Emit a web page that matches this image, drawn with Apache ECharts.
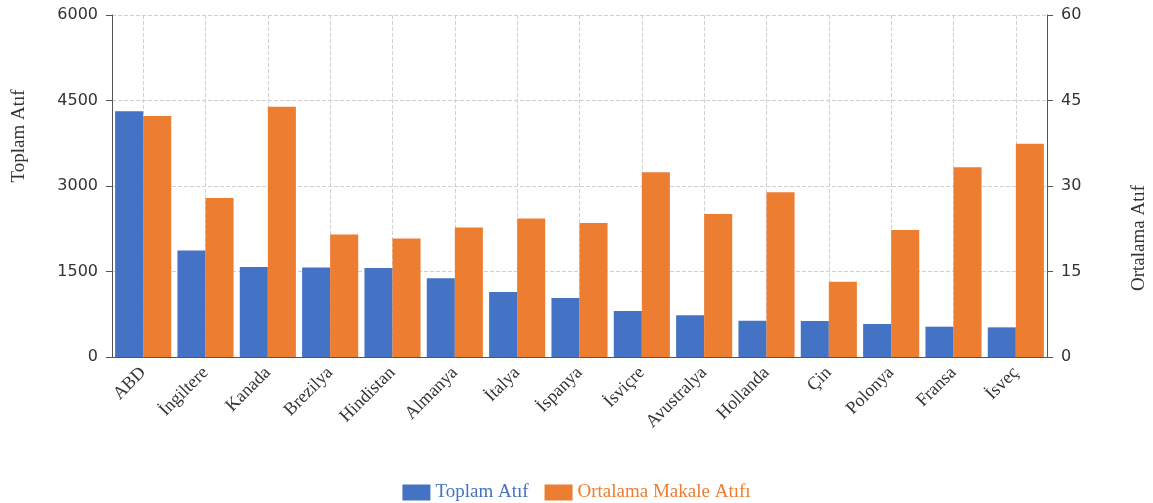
<!DOCTYPE html>
<html>
<head>
<meta charset="utf-8">
<script src="https://cdn.jsdelivr.net/npm/echarts@6/dist/echarts.min.js"></script>
<style>
html,body{margin:0;padding:0;background:#fff;}
#chart{width:1153px;height:503px;}
</style>
</head>
<body>
<div id="chart"></div>
<script>
const categories = ['ABD','İngiltere','Kanada','Brezilya','Hindistan','Almanya','İtalya','İspanya','İsviçre','Avustralya','Hollanda','Çin','Polonya','Fransa','İsveç'];
const toplamAtif = [4310, 1870, 1580, 1570, 1560, 1380, 1140, 1035, 807, 731, 637, 632, 579, 532, 520];
const ortalamaAtif = [42.3, 27.9, 43.9, 21.5, 20.8, 22.7, 24.3, 23.5, 32.4, 25.1, 28.9, 13.2, 22.3, 33.3, 37.4];
const leftTicks = [0, 1500, 3000, 4500, 6000];
const rightTicks = [0, 15, 30, 45, 60];

const BLUE = '#4472C4';
const ORANGE = '#ED7D31';
const serif = '"Liberation Serif", "DejaVu Serif", serif';
const sans = '"DejaVu Sans", sans-serif';

const chart = echarts.init(document.getElementById('chart'), null, {renderer: 'canvas'});
chart.setOption({
  animation: false,
  backgroundColor: '#fff',
  grid: {left: 112, right: 106, top: 15, bottom: 146, containLabel: false},
  legend: {
    top: 478,
    left: 'center',
    itemWidth: 28,
    itemHeight: 16,
    itemGap: 16,
    icon: 'rect',
    textStyle: {fontFamily: serif, fontSize: 19},
    data: [
      {name: 'Toplam Atıf', textStyle: {color: BLUE}},
      {name: 'Ortalama Makale Atıfı', textStyle: {color: ORANGE}}
    ]
  },
  xAxis: {
    type: 'category',
    data: categories,
    boundaryGap: true,
    axisLine: {lineStyle: {color: '#555'}},
    axisTick: {alignWithLabel: true, length: 6, lineStyle: {color: '#555'}},
    axisLabel: {rotate: 45, fontFamily: serif, fontSize: 18, color: '#333', margin: 13, interval: 0},
    splitLine: {show: true, alignWithLabel: true, lineStyle: {type: 'dashed', color: '#d0d0d0'}}
  },
  yAxis: [
    {
      type: 'value', min: 0, max: leftTicks[leftTicks.length-1], interval: leftTicks[1]-leftTicks[0],
      position: 'left',
      axisLine: {show: true, lineStyle: {color: '#555'}},
      axisTick: {show: true, length: 6, lineStyle: {color: '#555'}},
      axisLabel: {fontFamily: sans, fontSize: 16, color: '#333', margin: 14, formatter: v => String(v)},
      splitLine: {show: true, lineStyle: {type: 'dashed', color: '#d0d0d0'}}
    },
    {
      type: 'value', min: 0, max: rightTicks[rightTicks.length-1], interval: rightTicks[1]-rightTicks[0],
      position: 'right',
      axisLine: {show: true, lineStyle: {color: '#555'}},
      axisTick: {show: true, length: 6, lineStyle: {color: '#555'}},
      axisLabel: {fontFamily: sans, fontSize: 16, color: '#333', margin: 14, formatter: v => String(v)},
      splitLine: {show: false}
    }
  ],
  graphic: [
    {type: 'text', x: 19, y: 136, rotation: Math.PI/2,
     style: {text: 'Toplam Atıf', font: '19px ' + serif, fill: '#333', align: 'center', verticalAlign: 'middle'}},
    {type: 'text', x: 1139, y: 238, rotation: Math.PI/2,
     style: {text: 'Ortalama Atıf', font: '19px ' + serif, fill: '#333', align: 'center', verticalAlign: 'middle'}}
  ],
  series: [
    {name: 'Toplam Atıf', type: 'bar', yAxisIndex: 0, data: toplamAtif,
     itemStyle: {color: BLUE}, barGap: '0%', barCategoryGap: '10%'},
    {name: 'Ortalama Makale Atıfı', type: 'bar', yAxisIndex: 1, data: ortalamaAtif,
     itemStyle: {color: ORANGE}, barGap: '0%', barCategoryGap: '10%'}
  ]
});
</script>
</body>
</html>
